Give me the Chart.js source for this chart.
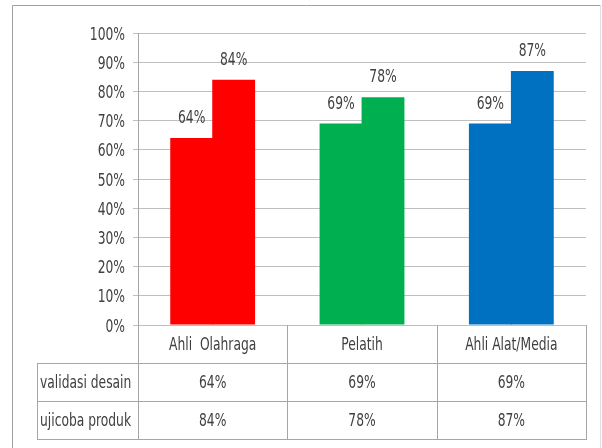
<!DOCTYPE html>
<html>
<head>
<meta charset="utf-8">
<script src="https://cdn.jsdelivr.net/npm/chart.js@4/dist/chart.umd.min.js"></script>
<style>
  html, body { margin: 0; padding: 0; background: #fff; }
</style>
</head>
<body>
<canvas id="chartCanvas" width="602" height="448"></canvas>
<script>
// Chart data
const categories = ['Ahli  Olahraga', 'Pelatih', 'Ahli Alat/Media'];
const seriesNames = ['validasi desain', 'ujicoba produk'];
const validasiDesain = [64, 69, 69];
const ujicobaProduk = [84, 78, 87];
const barColors = ['#FF0000', '#00B050', '#0070C0'];

const FONT = '18px "DejaVu Sans Condensed", "Liberation Sans", sans-serif';
const SQUEEZE = 0.76; // narrow the text like the original
const TEXT_COLOR = '#404040';
const LINE_COLOR = '#A6A6A6';

// Helper: draw horizontally squeezed text
function drawText(ctx, text, x, y, align) {
  ctx.save();
  ctx.translate(x, y);
  ctx.scale(SQUEEZE, 1);
  ctx.textAlign = align;
  ctx.fillText(text, 0, 0);
  ctx.restore();
}

// Y tick labels + labels above each bar
const barLabels = {
  id: 'barLabels',
  afterDatasetsDraw(chart) {
    const ctx = chart.ctx;
    const yScale = chart.scales.y;
    ctx.save();
    ctx.font = FONT;
    ctx.fillStyle = TEXT_COLOR;
    ctx.textBaseline = 'middle';
    yScale.ticks.forEach(t => {
      drawText(ctx, t.value + '%', 125, yScale.getPixelForValue(t.value) + 2, 'right');
    });
    ctx.textBaseline = 'alphabetic';
    chart.data.datasets.forEach((ds, i) => {
      chart.getDatasetMeta(i).data.forEach((bar, j) => {
        drawText(ctx, ds.data[j] + '%', bar.x, bar.y - 15, 'center');
      });
    });
    ctx.restore();
  }
};

// Data table under the plot + outer border
const dataTable = {
  id: 'dataTable',
  afterDraw(chart) {
    const ctx = chart.ctx;
    const xScale = chart.scales.x;
    const area = chart.chartArea;
    const half = (area.right - area.left) / categories.length / 2;
    const tableLeft = 37;
    const rows = [area.bottom, 363, 401, 439];

    ctx.save();
    ctx.strokeStyle = LINE_COLOR;
    ctx.lineWidth = 1;
    ctx.beginPath();
    // vertical lines
    const edges = [area.left];
    categories.forEach((c, i) => edges.push(xScale.getPixelForValue(i) + half));
    edges.forEach(x => {
      const px = Math.round(x) + 0.5;
      ctx.moveTo(px, area.bottom);
      ctx.lineTo(px, rows[3]);
    });
    ctx.moveTo(tableLeft + 0.5, rows[1]);
    ctx.lineTo(tableLeft + 0.5, rows[3]);
    // horizontal lines
    for (let r = 1; r < rows.length; r++) {
      ctx.moveTo(tableLeft, rows[r] + 0.5);
      ctx.lineTo(Math.round(area.right) + 1, rows[r] + 0.5);
    }
    ctx.stroke();

    // outer border
    ctx.strokeStyle = '#A0A0A0';
    ctx.beginPath();
    ctx.moveTo(12.5, 448);
    ctx.lineTo(12.5, 5.5);
    ctx.lineTo(600.5, 5.5);
    ctx.stroke();
    ctx.strokeStyle = '#E0E0E0';
    ctx.beginPath();
    ctx.moveTo(600.5, 5.5);
    ctx.lineTo(600.5, 448);
    ctx.stroke();

    // texts
    ctx.font = FONT;
    ctx.fillStyle = TEXT_COLOR;
    ctx.textBaseline = 'middle';
    categories.forEach((c, i) => {
      drawText(ctx, c, xScale.getPixelForValue(i), (rows[0] + rows[1]) / 2 + 1, 'center');
    });
    const seriesValues = [validasiDesain, ujicobaProduk];
    seriesValues.forEach((vals, r) => {
      const y = (rows[r + 1] + rows[r + 2]) / 2 + 1;
      drawText(ctx, seriesNames[r], tableLeft + 3, y, 'left');
      vals.forEach((v, i) => drawText(ctx, v + '%', xScale.getPixelForValue(i), y, 'center'));
    });
    ctx.restore();
  }
};

const chartConfig = {
  type: 'bar',
  data: {
    labels: categories,
    datasets: [
      {
        label: seriesNames[0],
        data: validasiDesain,
        backgroundColor: barColors,
        categoryPercentage: 0.5625,
        barPercentage: 1.02
      },
      {
        label: seriesNames[1],
        data: ujicobaProduk,
        backgroundColor: barColors,
        categoryPercentage: 0.5625,
        barPercentage: 1.02
      }
    ]
  },
  options: {
    responsive: false,
    devicePixelRatio: 1,
    animation: false,
    layout: { padding: { top: 33, right: 16, left: 0, bottom: 0 } },
    plugins: {
      legend: { display: false },
      tooltip: { enabled: false }
    },
    scales: {
      x: {
        ticks: { display: false },
        grid: { display: false },
        border: { display: false },
        afterFit(scale) { scale.height = 123; }
      },
      y: {
        min: 0,
        max: 100,
        ticks: { stepSize: 10, display: false },
        grid: { color: '#BFBFBF', tickLength: 5 },
        border: { color: LINE_COLOR },
        afterFit(scale) { scale.width = 138; }
      }
    }
  },
  plugins: [barLabels, dataTable]
};

const chartCanvas = document.getElementById('chartCanvas');
const projectileChart = new Chart(chartCanvas.getContext('2d'), chartConfig);
</script>
</body>
</html>
